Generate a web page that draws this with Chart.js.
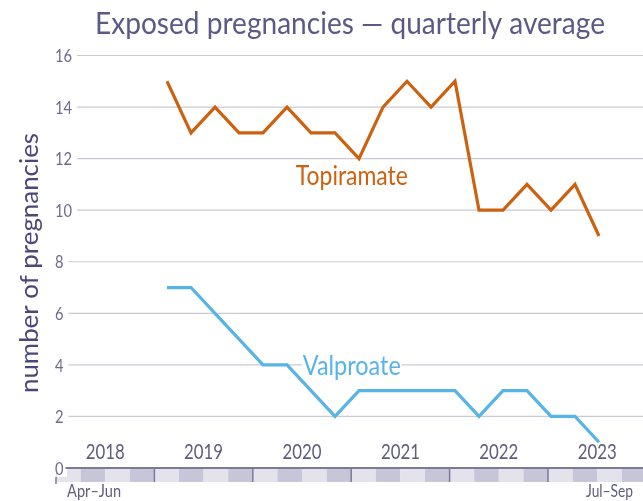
<!DOCTYPE html>
<html><head><meta charset="utf-8">
<script src="https://cdn.jsdelivr.net/npm/chart.js@4.4.1/dist/chart.umd.min.js"></script>
<style>html,body{margin:0;padding:0;background:#fff;}canvas{display:block;}</style>
</head><body>
<canvas id="c" width="643" height="501"></canvas>
<script>
// ---- data ----
const quarters = [
  'Jan–Mar 2019','Apr–Jun 2019','Jul–Sep 2019','Oct–Dec 2019',
  'Jan–Mar 2020','Apr–Jun 2020','Jul–Sep 2020','Oct–Dec 2020',
  'Jan–Mar 2021','Apr–Jun 2021','Jul–Sep 2021','Oct–Dec 2021',
  'Jan–Mar 2022','Apr–Jun 2022','Jul–Sep 2022','Oct–Dec 2022',
  'Jan–Mar 2023','Apr–Jun 2023','Jul–Sep 2023'
];
const topiramate = [15,13,14,13,13,14,13,13,12,14,15,14,15,10,10,11,10,11,9];
const valproate  = [7,7,6,5,4,4,3,2,3,3,3,3,3,2,3,3,2,2,1];
const yTicks = [0,2,4,6,8,10,12,14,16];
const yearLabels = ['2018','2019','2020','2021','2022','2023'];
const bandEndLabels = ['Apr–Jun','Jul–Sep'];
const seriesNames = ['Topiramate','Valproate'];
const chartTitle = 'Exposed pregnancies — quarterly average';
const yTitle = 'number of pregnancies';

// ---- style ----
const ORANGE = '#cc6210';
const BLUE = '#56b4e6';
const FONT = 'Lato';

function txt(ctx, s, x, y, o) {
  ctx.save();
  ctx.font = (o.weight || '400') + ' ' + o.size + 'px ' + FONT;
  ctx.fillStyle = o.color;
  ctx.textBaseline = o.baseline || 'alphabetic';
  ctx.textAlign = o.align || 'left';
  const w = ctx.measureText(s).width;
  const sx = o.width ? o.width / w : (o.sx || 1);
  ctx.translate(x, y);
  if (o.rotate) ctx.rotate(o.rotate);
  ctx.scale(sx, 1);
  ctx.fillText(s, 0, 0);
  ctx.restore();
  return w * sx;
}

const decor = {
  id: 'decor',
  beforeDatasetsDraw(chart) {
    const ctx = chart.ctx;
    const ys = chart.scales.y, xb = chart.scales.xb, xs = chart.scales.x;
    const W = chart.width;
    // title
    txt(ctx, chartTitle, 95, 34, {size: 31, color: '#5d5987', width: 510});
    // y title
    txt(ctx, yTitle, 37.5, 263, {size: 25, color: '#4c4779', width: 260, align: 'center', rotate: -Math.PI / 2});
    // band of quarters
    const nCells = yearLabels.length * 4;
    const y0 = 469, y1 = 482;
    for (let k = 0; k < nCells; k++) {
      const a = xb.getPixelForValue(k), b = Math.min(xb.getPixelForValue(k + 1), W);
      if (a >= W) break;
      ctx.fillStyle = (k % 2 === 0) ? '#e4e3ec' : '#c7c5d8';
      ctx.fillRect(a, y0, b - a, y1 - y0);
    }
    ctx.save();
    ctx.strokeStyle = '#7d7a98'; ctx.lineWidth = 1.5;
    for (let i = 1; i < yearLabels.length; i++) {
      const px = xb.getPixelForValue(i * 4);
      ctx.beginPath(); ctx.moveTo(px, 468); ctx.lineTo(px, y1); ctx.stroke();
    }
    const p0 = xb.getPixelForValue(0);
    ctx.beginPath(); ctx.moveTo(p0, 477); ctx.lineTo(p0, 484); ctx.stroke();
    ctx.restore();
    // white backdrop behind the zero label
    ctx.fillStyle = '#ffffff';
    ctx.fillRect(p0 + 1, 459, 10, 18);
    // y ticks + grid
    yTicks.forEach(v => {
      const py = ys.getPixelForValue(v);
      const w = txt(ctx, String(v), 55, py + 1, {size: 17.5, weight: '400', color: '#6e6c8c', baseline: 'middle', sx: 0.84});
      ctx.save();
      ctx.beginPath();
      if (v === 0) {
        ctx.strokeStyle = '#7d7a98'; ctx.lineWidth = 2;
        ctx.moveTo(55 + w + 2, py); ctx.lineTo(W, py);
      } else {
        ctx.strokeStyle = '#cbcad4'; ctx.lineWidth = 1.2;
        ctx.moveTo(55 + w + 5, py); ctx.lineTo(W, py);
      }
      ctx.stroke();
      ctx.restore();
    });
    // year labels
    yearLabels.forEach((s, i) => {
      txt(ctx, s, xb.getPixelForValue(i * 4 + 2), 459, {size: 22, weight: '400', color: '#5f5d7d', align: 'center', width: 39});
    });
    txt(ctx, bandEndLabels[0], xb.getPixelForValue(0.45), 497, {size: 18, weight: '400', color: '#5f5d7d', width: 54});
    txt(ctx, bandEndLabels[1], xb.getPixelForValue(22.5), 497, {size: 18, weight: '400', color: '#5f5d7d', width: 47, align: 'center'});
    // series labels
    const vx = xs.getPixelForValue(7.7), vy = ys.getPixelForValue(4);
    ctx.fillStyle = '#ffffff';
    ctx.fillRect(vx - 50, vy - 5, 100, 10);
    txt(ctx, seriesNames[0], vx, 185, {size: 27, color: ORANGE, width: 112, align: 'center'});
    txt(ctx, seriesNames[1], vx, 375, {size: 27, color: BLUE, width: 98, align: 'center'});
  }
};

const lineDs = (label, arr, color) => ({
  label,
  data: arr.map((v, i) => ({x: i, y: v})),
  borderColor: color,
  backgroundColor: color,
  borderWidth: 3.2,
  pointRadius: 0,
  tension: 0,
  fill: false,
  borderJoinStyle: 'miter',
  borderCapStyle: 'butt'
});

new Chart(document.getElementById('c'), {
  type: 'line',
  data: {
    labels: quarters,
    datasets: [lineDs(seriesNames[0], topiramate, ORANGE), lineDs(seriesNames[1], valproate, BLUE)]
  },
  options: {
    responsive: false,
    animation: false,
    layout: {padding: {left: 56, right: 0, top: 55.5, bottom: 33}},
    plugins: {legend: {display: false}, title: {display: false}, tooltip: {enabled: false}},
    scales: {
      x: {type: 'linear', display: false, min: -4.625, max: 19.833},
      xb: {type: 'linear', display: false, min: 0, max: 587 / 24.6},
      y: {type: 'linear', display: false, min: 0, max: 16}
    }
  },
  plugins: [decor]
});
</script>
</body></html>
